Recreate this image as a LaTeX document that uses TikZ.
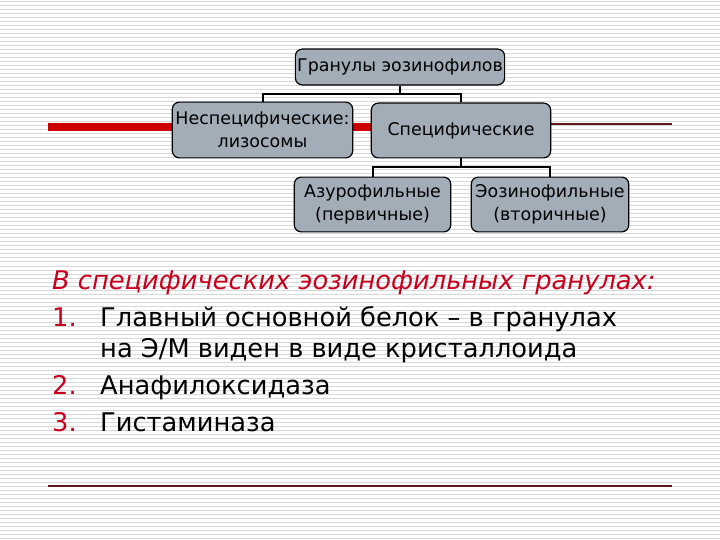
\documentclass[tikz,border=0pt]{standalone}
\usepackage{fontspec}
\setmainfont{DejaVu Sans}
\usepackage{tikz}
\usetikzlibrary{positioning}

\definecolor{boxfill}{RGB}{163,173,184}
\definecolor{slidered}{RGB}{204,0,0}
\definecolor{rulered}{RGB}{100,20,20}
\definecolor{headred}{RGB}{200,0,30}
\definecolor{stripegray}{RGB}{216,216,216}

\begin{document}
\begin{tikzpicture}[x=1bp,y=-1bp]
      \tikzstyle{gbox} = [draw, line width=1.2bp, rounded corners=7bp, fill=boxfill, align=center, inner sep=0pt, font=\fontsize{17.5}{23}\selectfont]
      \tikzstyle{conn} = [draw, line width=2bp]
      \tikzstyle{line} = [anchor=base west, inner sep=0pt, font=\fontsize{25.8}{30}\selectfont]
      \useasboundingbox (0,0) rectangle (720,540);
      % background
      \fill[white] (0,0) rectangle (720,540);
      \foreach \y in {2,6,...,538}
        \draw[stripegray, line width=1bp] (0,\y) -- (720,\y);
      \fill[slidered] (48,123) rectangle (372,131);
      \draw[rulered, line width=1.5bp] (372,124) -- (672,124);
      \draw[rulered, line width=1.5bp] (48,486) -- (672,486);
      % tree
      \begin{scope}
	\path
	node[gbox, minimum width=210, minimum height=36] (top) at (400,67) {Гранулы эозинофилов}
	node[gbox, minimum width=181, minimum height=56] (nonspec) at (262.5,130) {Неспецифические:\\лизосомы}
	node[gbox, minimum width=180, minimum height=55] (spec) at (461,130.5) {Специфические}
	node[gbox, minimum width=157, minimum height=55] (azur) at (372.5,204.5) {Азурофильные\\(первичные)}
	node[gbox, minimum width=158, minimum height=55] (eoz) at (550,204.5) {Эозинофильные\\(вторичные)};
	\draw[conn] (top.south) -- ++(0,8) -| (nonspec.north);
	\draw[conn] (top.south) -- ++(0,8) -| (spec.north);
	\draw[conn] (spec.south) -- ++(0,9) -| (azur.north);
	\draw[conn] (spec.south) -- ++(0,9) -| (eoz.north);
      \end{scope}
      % text
      \node[line, text=headred, font=\fontsize{25.8}{30}\selectfont\itshape] (head) at (52,289) {В специфических эозинофильных гранулах:};
      \node[line, text=headred] (n1) at (52,326) {1.};
      \node[line] (t1) at (100,326) {Главный основной белок – в гранулах};
      \node[line] (t1b) at (100,357) {на Э/М виден в виде кристаллоида};
      \node[line, text=headred] (n2) at (52,394) {2.};
      \node[line] (t2) at (100,394) {Анафилоксидаза};
      \node[line, text=headred] (n3) at (52,431) {3.};
      \node[line] (t3) at (100,431) {Гистаминаза};
\end{tikzpicture}
\end{document}
